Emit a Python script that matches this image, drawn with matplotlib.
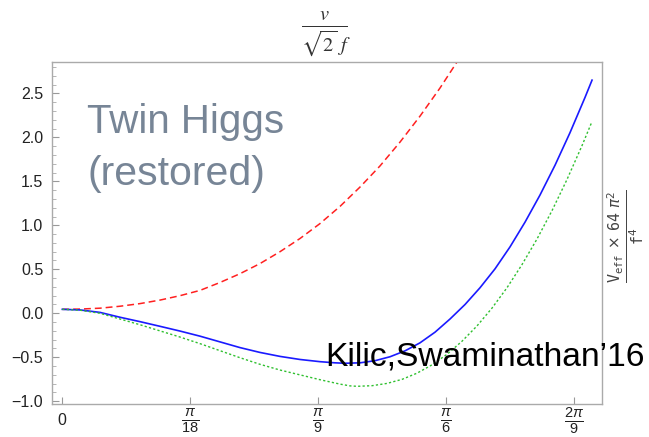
import numpy as np
import matplotlib
matplotlib.use("Agg")
import matplotlib.pyplot as plt

# ---- data ----
x_red = [0.0, 0.0242, 0.0515, 0.0787, 0.1060, 0.1333, 0.1606, 0.1879, 0.2152, 0.2425, 0.2698,
         0.2971, 0.3244, 0.3517, 0.3790, 0.4063, 0.4336, 0.4608, 0.4881, 0.5154, 0.5386]
y_red = [0.045, 0.048, 0.058, 0.080, 0.110, 0.150, 0.200, 0.260, 0.350, 0.450, 0.565,
         0.700, 0.850, 1.020, 1.215, 1.435, 1.675, 1.945, 2.240, 2.560, 2.856]

x_blue = [0.0, 0.0242, 0.0515, 0.0787, 0.1060, 0.1333, 0.1606, 0.1879, 0.2152, 0.2425, 0.2698,
          0.2971, 0.3244, 0.3517, 0.3721, 0.3858, 0.4063, 0.4267, 0.4472, 0.4677, 0.4881,
          0.5086, 0.5291, 0.5496, 0.5700, 0.5905, 0.6110, 0.6314, 0.6519, 0.6724, 0.6928,
          0.7133, 0.7229]
y_blue = [0.045, 0.038, 0.010, -0.045, -0.095, -0.148, -0.202, -0.260, -0.325, -0.390, -0.445,
          -0.490, -0.525, -0.550, -0.563, -0.568, -0.563, -0.539, -0.494, -0.427, -0.336,
          -0.215, -0.065, 0.100, 0.290, 0.505, 0.755, 1.035, 1.344, 1.683, 2.052,
          2.453, 2.650]

x_green = [0.0, 0.0242, 0.0515, 0.0787, 0.1060, 0.1333, 0.1606, 0.1879, 0.2152, 0.2425, 0.2698,
           0.2971, 0.3244, 0.3517, 0.3790, 0.3926, 0.4022, 0.4226, 0.4431, 0.4636, 0.4840,
           0.5045, 0.5250, 0.5454, 0.5659, 0.5864, 0.6069, 0.6273, 0.6478, 0.6683, 0.6887,
           0.7092, 0.7229]
y_green = [0.045, 0.035, 0.000, -0.065, -0.130, -0.200, -0.270, -0.345, -0.425, -0.505, -0.580,
           -0.645, -0.700, -0.755, -0.805, -0.825, -0.830, -0.823, -0.797, -0.751, -0.681,
           -0.586, -0.466, -0.318, -0.144, 0.059, 0.291, 0.553, 0.844, 1.167, 1.520,
           1.905, 2.180]

xtick_vals = [0.0, np.pi / 18, np.pi / 9, np.pi / 6, 2 * np.pi / 9]
xtick_labels = ["0", r"$\frac{\pi}{18}$", r"$\frac{\pi}{9}$", r"$\frac{\pi}{6}$", r"$\frac{2\pi}{9}$"]
ytick_vals = [-1.0, -0.5, 0.0, 0.5, 1.0, 1.5, 2.0, 2.5]
ytick_labels = ["\u22121.0", "\u22120.5", "0.0", "0.5", "1.0", "1.5", "2.0", "2.5"]

plt.rcParams["font.family"] = ["Liberation Sans", "DejaVu Sans"]
plt.rcParams["mathtext.fontset"] = "custom"
plt.rcParams["mathtext.rm"] = "Liberation Sans"
plt.rcParams["mathtext.it"] = "Liberation Sans:italic"
plt.rcParams["mathtext.bf"] = "Liberation Sans:bold"

W, H = 649, 437
fig = plt.figure(figsize=(W / 100, H / 100), dpi=100)
ax = fig.add_axes([51.7 / W, 1 - 404 / H, (602 - 51.7) / W, (404 - 62) / H])

ax.plot(x_red, y_red, color="#ff2020", lw=1.1, dashes=(4.5, 2.6))
ax.plot(x_blue, y_blue, color="#1a1aff", lw=1.2)
ax.plot(x_green, y_green, color="#30c030", lw=1.0, dashes=(1.6, 1.6))

ax.set_xlim(-0.01446, 0.7365)
ax.set_ylim(-1.031, 2.856)

ax.set_xticks(xtick_vals)
ax.set_xticklabels(xtick_labels, fontsize=15)
ax.set_yticks(ytick_vals)
ax.set_yticklabels(ytick_labels, fontsize=11.5)
ax.set_yticks(np.arange(-1.0, 2.85, 0.1), minor=True)

ax.tick_params(axis="both", which="major", direction="in", length=5, width=0.8, color="#999999",
               labelcolor="#222222")
ax.tick_params(axis="y", which="minor", direction="in", length=3, width=0.6, color="#aaaaaa")
ax.tick_params(axis="x", which="major", pad=12)
ax.tick_params(axis="y", which="major", pad=6)
for lab in ax.get_xticklabels():
    lab.set_va("center")
ax.get_xticklabels()[0].set_fontsize(11.5)

for s in ax.spines.values():
    s.set_color("#aaaaaa")
    s.set_linewidth(1.0)

fig.text(326 / W, 1 - 34 / H, r"$\frac{v}{\sqrt{2}\ f}$", ha="center", va="center",
         fontsize=21, math_fontfamily="stix", color="#333333")
fig.text(626 / W, 1 - 236 / H,
         r"$\frac{\mathtt{V}_{\mathtt{eff}}\,\times\,\mathtt{64}\ \pi^{2}}{\mathtt{f}^{4}}$",
         ha="center", va="center", rotation=90, fontsize=15.5, math_fontfamily="dejavusans",
         color="#444444")

fig.text(87 / W, 1 - 133 / H, "Twin Higgs", fontsize=29, color="#778596", ha="left", va="baseline")
fig.text(87 / W, 1 - 185 / H, "(restored)", fontsize=29.5, color="#778596", ha="left", va="baseline")
fig.text(325 / W, 1 - 365 / H, "Kilic,Swaminathan\u201916", fontsize=24.2, color="black",
         ha="left", va="baseline")

fig.savefig("out.png", dpi=100)
